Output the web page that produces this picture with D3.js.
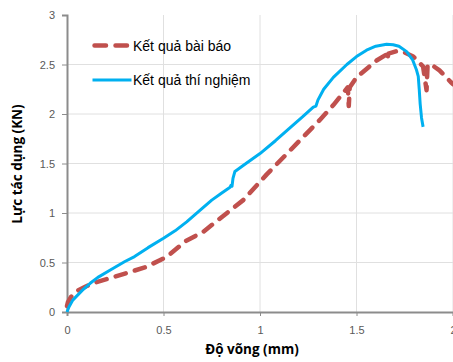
<!DOCTYPE html>
<html>
<head>
<meta charset="utf-8">
<script src="https://cdn.jsdelivr.net/npm/d3@7"></script>
<style>
  body { margin: 0; background: #fff; }
  svg { display: block; }
</style>
</head>
<body>
<div id="plot"></div>
<script>
// Kết quả bài báo (dashed red)
const paperX = [0, 0.005, 0.02, 0.05, 0.1, 0.15, 0.27, 0.41, 0.515, 0.618, 0.706, 0.793, 0.913, 1.035, 1.13, 1.225, 1.31, 1.38, 1.43, 1.455, 1.46, 1.465, 1.5, 1.604, 1.655, 1.66, 1.665, 1.708, 1.75, 1.794, 1.845, 1.863, 1.868, 1.88, 1.93, 1.99, 2.0];
const paperY = [0.06, 0.1, 0.15, 0.21, 0.26, 0.3, 0.37, 0.455, 0.555, 0.72, 0.81, 0.945, 1.13, 1.39, 1.58, 1.77, 1.94, 2.09, 2.21, 2.27, 2.08, 2.27, 2.37, 2.54, 2.6, 2.55, 2.61, 2.635, 2.62, 2.58, 2.48, 2.24, 2.48, 2.51, 2.44, 2.32, 2.3];

// Kết quả thí nghiệm (solid blue)
const testX = [0, 0.01, 0.03, 0.05, 0.08, 0.12, 0.16, 0.22, 0.3, 0.35, 0.42, 0.5, 0.56, 0.62, 0.69, 0.75, 0.8, 0.845, 0.85, 0.855, 0.86, 0.87, 0.92, 1.0, 1.08, 1.155, 1.22, 1.276, 1.29, 1.3, 1.33, 1.38, 1.45, 1.5, 1.552, 1.6, 1.656, 1.69, 1.72, 1.76, 1.79, 1.81, 1.82, 1.825, 1.83, 1.837, 1.845];
const testY = [0, 0.05, 0.12, 0.16, 0.22, 0.29, 0.35, 0.42, 0.51, 0.56, 0.65, 0.745, 0.82, 0.91, 1.03, 1.13, 1.2, 1.26, 1.28, 1.27, 1.35, 1.42, 1.49, 1.6, 1.73, 1.86, 1.97, 2.07, 2.08, 2.14, 2.25, 2.37, 2.5, 2.58, 2.645, 2.685, 2.705, 2.7, 2.685, 2.63, 2.55, 2.45, 2.38, 2.25, 2.1, 1.96, 1.87];

const xTicks = [0, 0.5, 1, 1.5, 2];
const yTicks = [0, 0.5, 1, 1.5, 2, 2.5, 3];
const seriesNames = ["Kết quả bài báo", "Kết quả thí nghiệm"];
const xTitle = "Độ võng (mm)";
const yTitle = "Lực tác dụng (KN)";

const W = 453, H = 362;
const margin = {top: 15, right: 0, bottom: 50, left: 67};
const width = W - margin.left - margin.right;
const height = 312 - margin.top;

const svg = d3.select("#plot").append("svg")
    .attr("width", W).attr("height", H)
    .style("font-family", "'Open Sans', sans-serif");

const g = svg.append("g")
    .attr("transform", "translate(" + margin.left + "," + margin.top + ")");

const x = d3.scaleLinear().domain([0, 2]).range([0, 386]);
const y = d3.scaleLinear().domain([0, 3]).range([height, 0]);

// gridlines (none on the top value)
g.append("g").selectAll("line")
    .data(yTicks.slice(1, -1))
    .enter().append("line")
    .attr("x1", 0).attr("x2", width)
    .attr("y1", d => y(d)).attr("y2", d => y(d))
    .attr("stroke", "#e0e0e0").attr("stroke-width", 1);
g.append("g").selectAll("line")
    .data(xTicks.slice(1))
    .enter().append("line")
    .attr("x1", d => x(d)).attr("x2", d => x(d))
    .attr("y1", 0).attr("y2", height)
    .attr("stroke", "#e0e0e0").attr("stroke-width", 1);

// axes
const yAxis = d3.axisLeft(y).tickValues(yTicks).tickFormat(d3.format("")).tickSize(5).tickPadding(7);
const xAxis = d3.axisBottom(x).tickValues(xTicks).tickFormat(d3.format("")).tickSize(4).tickPadding(10);

const ya = g.append("g").call(yAxis);
const xa = g.append("g").attr("transform", "translate(0," + height + ")").call(xAxis);
[ya, xa].forEach(a => {
  a.select(".domain").attr("stroke", "#8c8c8c").attr("stroke-width", 2);
  a.selectAll(".tick line").attr("stroke", "#8c8c8c").attr("stroke-width", 1);
  a.selectAll(".tick text").attr("fill", "#595959").style("font-size", "11px");
});

// lines
const line = d3.line().x(d => x(d[0])).y(d => y(d[1]));
const paper = paperX.map((v, i) => [v, paperY[i]]);
const test = testX.map((v, i) => [v, testY[i]]);

g.append("path").datum(paper)
    .attr("d", line)
    .attr("fill", "none")
    .attr("stroke", "#C0504D")
    .attr("stroke-width", 4.5)
    .attr("stroke-linecap", "round")
    .attr("stroke-linejoin", "round")
    .attr("stroke-dasharray", "10.5,9.5");

g.append("path").datum(test)
    .attr("d", line)
    .attr("fill", "none")
    .attr("stroke", "#00B0F0")
    .attr("stroke-width", 3)
    .attr("stroke-linejoin", "round");

// legend
const legend = svg.append("g").style("font-family", "'Liberation Sans', Arial, sans-serif");
legend.append("line")
    .attr("x1", 94.5).attr("x2", 128).attr("y1", 45.5).attr("y2", 45.5)
    .attr("stroke", "#C0504D").attr("stroke-width", 4.5)
    .attr("stroke-linecap", "round").attr("stroke-dasharray", "11.5,9.5");
legend.append("text").attr("x", 133).attr("y", 50.5)
    .style("font-size", "14px").attr("fill", "#000").text(seriesNames[0]);
legend.append("line")
    .attr("x1", 92.5).attr("x2", 131.5).attr("y1", 80).attr("y2", 80)
    .attr("stroke", "#00B0F0").attr("stroke-width", 3);
legend.append("text").attr("x", 133).attr("y", 85)
    .style("font-size", "14px").attr("fill", "#000").text(seriesNames[1]);

// titles
svg.append("text")
    .attr("x", 252).attr("y", 354)
    .attr("text-anchor", "middle")
    .style("font-size", "13.5px").style("font-weight", "bold")
    .text(xTitle);
svg.append("text")
    .attr("transform", "translate(22,164) rotate(-90)")
    .attr("text-anchor", "middle")
    .style("font-size", "13.5px").style("font-weight", "bold")
    .text(yTitle);
</script>
</body>
</html>
